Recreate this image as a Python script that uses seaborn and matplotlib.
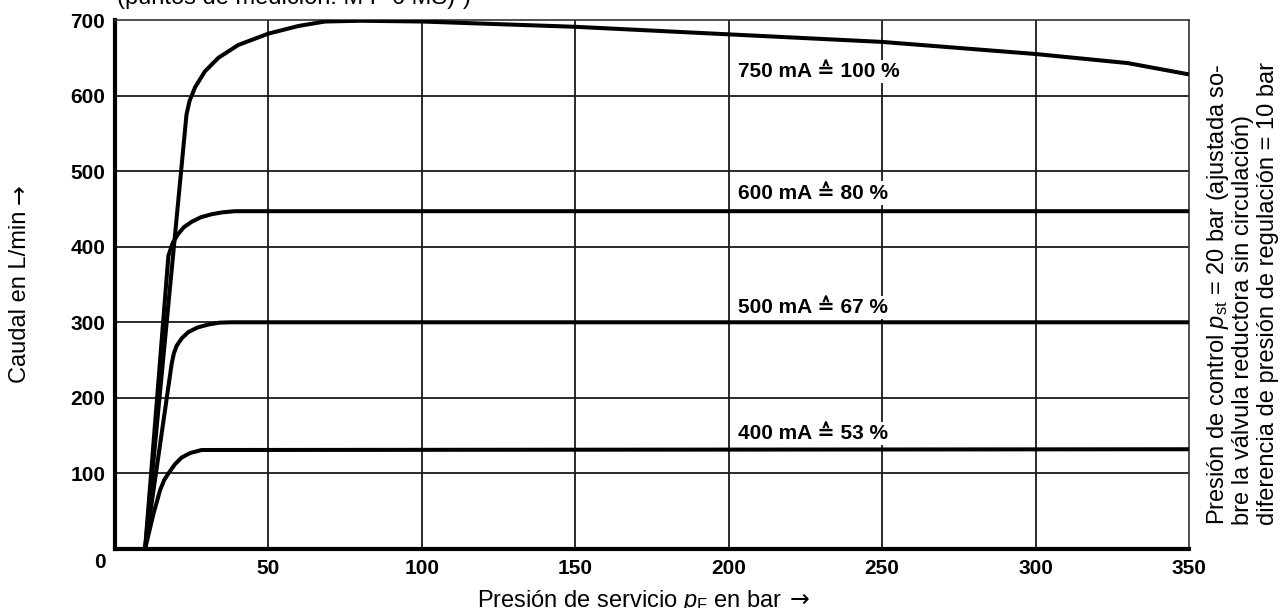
import numpy as np
import pandas as pd
import seaborn as sns
import matplotlib.pyplot as plt
import matplotlib.transforms as mtransforms

# curves (x = operating pressure in bar, y = flow in L/min)
x_750 = [9.8, 23.3, 24.3, 26.1, 29.3, 33.7, 40.2, 50, 59.7, 68.4, 80, 100, 150, 200, 250, 300, 330, 350]
y_750 = [0, 575, 593, 611, 632, 650, 667, 682, 692, 698, 699, 698, 691, 681, 671, 655, 643, 628]
x_600 = [9.8, 17.4, 18.8, 20.6, 22.5, 25, 28, 31.5, 35, 39.1, 350]
y_600 = [0, 388, 405, 417, 426, 433, 439, 443, 445.5, 447, 447]
x_500 = [9.8, 18.5, 19.2, 20.1, 21.8, 23.9, 26.8, 30.4, 34, 38, 350]
y_500 = [0, 246, 259, 269, 279, 287, 293, 297, 299.5, 300, 300]
x_400 = [9.8, 12.5, 14.7, 16, 17.4, 19.5, 21.7, 24.5, 28.2, 350]
y_400 = [0, 46, 78, 91, 100, 112, 121, 127, 131, 132]

labels = ['750 mA \u2259 100 %', '600 mA \u2259 80 %', '500 mA \u2259 67 %', '400 mA \u2259 53 %']
label_x = [203, 203, 203, 203]
label_y = [632, 471, 320, 153]

x_ticks = [50, 100, 150, 200, 250, 300, 350]
y_ticks = [0, 100, 200, 300, 400, 500, 600, 700]

frames = []
for name, xs, ys in [('750', x_750, y_750), ('600', x_600, y_600),
                     ('500', x_500, y_500), ('400', x_400, y_400)]:
    frames.append(pd.DataFrame({'p': xs, 'q': ys, 'curva': name}))
df = pd.concat(frames, ignore_index=True)

sns.set_style('white')
plt.rcParams['font.family'] = ['Liberation Sans', 'DejaVu Sans']
plt.rcParams['mathtext.fontset'] = 'custom'
plt.rcParams['mathtext.rm'] = 'Liberation Sans'
plt.rcParams['mathtext.it'] = 'Liberation Sans:italic'
for k in ['text.color', 'axes.labelcolor', 'xtick.color', 'ytick.color']:
    plt.rcParams[k] = 'black'

fig = plt.figure(figsize=(12.83, 6.08), dpi=100)
ax = fig.add_axes([115 / 1283, 1 - 549 / 608, (1189 - 115) / 1283, (549 - 20) / 608])

sns.lineplot(data=df, x='p', y='q', units='curva', estimator=None, sort=False,
             color='black', linewidth=2.9, ax=ax, zorder=4,
             solid_capstyle='butt', solid_joinstyle='round')

ax.set_xlim(0, 350)
ax.set_ylim(0, 700)
ax.set_xticks(x_ticks)
ax.set_yticks(y_ticks)
ax.tick_params(length=0, labelsize=15, pad=7)
for t in ax.get_xticklabels() + ax.get_yticklabels():
    t.set_fontweight('bold')
# the "0" sits a bit below the corner in the original
lab0 = ax.get_yticklabels()[0]
lab0.set_transform(lab0.get_transform() + mtransforms.ScaledTranslation(0, -11 / 100, fig.dpi_scale_trans))

for g in x_ticks[:-1]:
    ax.axvline(g, color='#1a1a1a', linewidth=1.3, zorder=1)
for g in y_ticks[1:-1]:
    ax.axhline(g, color='#1a1a1a', linewidth=1.3, zorder=1)

ax.set_xlabel('')
ax.set_ylabel('')
for s in ['left', 'bottom']:
    ax.spines[s].set_linewidth(3)
    ax.spines[s].set_color('black')
for s in ['top', 'right']:
    ax.spines[s].set_linewidth(1.2)
    ax.spines[s].set_color('#333333')

for txt, lx, ly in zip(labels, label_x, label_y):
    ax.text(lx, ly, txt, fontsize=15, fontweight='bold', ha='left', va='center', zorder=3,
            bbox=dict(facecolor='white', edgecolor='none', pad=1.5))

fig.text(117 / 1283, 1 - 4 / 608, '(puntos de medición: M P 6 MS)\u00b9)', fontsize=17,
         ha='left', va='baseline')
xl = fig.text(477 / 1283, 1 / 608, 'Presión de servicio $p_\\mathrm{F}$ en bar', fontsize=17,
              ha='left', va='baseline')
yl = fig.text(20 / 1283, 180 / 608 + 0.0, 'Caudal en L/min', fontsize=17,
              ha='center', va='bottom', rotation=90)
yl.set_position((20 / 1283, 1 - 383 / 608))

right_lines = ['Presión de control $p_\\mathrm{st}$ = 20 bar (ajustada so-',
               'bre la válvula reductora sin circulación)',
               'diferencia de presión de regulación = 10 bar']
for i, line in enumerate(right_lines):
    fig.text((1218 + 25 * i) / 1283, 1 - 525 / 608, line, fontsize=17,
             ha='center', va='bottom', rotation=90)

# arrows after the axis titles (DejaVu has the long arrow)
fig.canvas.draw()
r = fig.canvas.get_renderer()
bx = xl.get_window_extent(r)
fig.text((bx.x1 + 7) / 1283, 1 / 608, '\u2192', fontsize=17, family='DejaVu Sans',
         ha='left', va='baseline')
by = yl.get_window_extent(r)
fig.text(20 / 1283, (by.y1 + 7) / 608, '\u2192', fontsize=17, family='DejaVu Sans',
         ha='center', va='bottom', rotation=90)

fig.savefig('out.png', dpi=100)
